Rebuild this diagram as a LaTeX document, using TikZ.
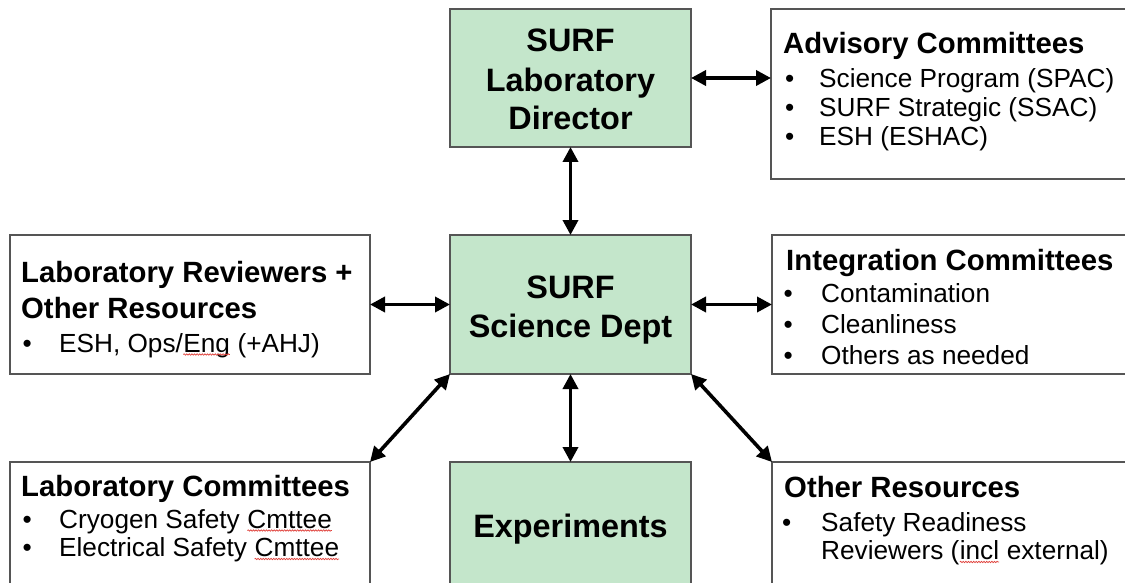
\documentclass[tikz,border=0pt]{standalone}
\usepackage{fontspec}
\setmainfont{Liberation Sans}
\usetikzlibrary{arrows.meta,decorations.pathmorphing}
\definecolor{boxgreen}{HTML}{C4E6CB}
\definecolor{edgegray}{HTML}{555555}
\definecolor{spellred}{HTML}{E0403A}
\newcommand\spellmark[1]{\tikz[baseline=(sw.base)]{\node[inner sep=0pt,outer sep=0pt](sw){#1};\draw[spellred,line width=0.7pt,decorate,decoration={snake,amplitude=0.7pt,segment length=2.6pt}]([yshift=-2.5pt]sw.base west)--([yshift=-2.5pt]sw.base east);}}
\tikzset{
  greenbox/.style={draw=edgegray,fill=boxgreen,line width=1.2pt,inner sep=0pt,outer sep=0pt},
  whitebox/.style={draw=edgegray,fill=white,line width=1.2pt,inner sep=0pt,outer sep=0pt},
  gtext/.style={anchor=base,inner sep=0pt,font=\fontsize{32.4}{38.8}\selectfont\bfseries},
  head/.style={anchor=base west,inner sep=0pt,font=\fontsize{29.3}{34}\selectfont\bfseries},
  item/.style={anchor=base west,inner sep=0pt,font=\fontsize{26.2}{30}\selectfont},
  link/.style={line width=3.6pt,{Triangle[length=15pt,width=15pt]}-{Triangle[length=15pt,width=15pt]}}
}
\begin{document}
\begin{tikzpicture}[x=1pt,y=-1pt]
\useasboundingbox (0,0) rectangle (1125,583);
\clip (0,0) rectangle (1125,583);
% boxes
\node[greenbox,minimum width=241pt,minimum height=138pt] (dir) at (570.5,78) {};
\node[whitebox,minimum width=369pt,minimum height=170pt] (adv) at (955.5,94) {};
\node[whitebox,minimum width=360pt,minimum height=139pt] (labr) at (190,304.5) {};
\node[greenbox,minimum width=241pt,minimum height=139pt] (sci) at (570.5,304.5) {};
\node[whitebox,minimum width=368pt,minimum height=139pt] (integ) at (956,304.5) {};
\node[whitebox,minimum width=360pt,minimum height=158pt] (labc) at (190,541) {};
\node[greenbox,minimum width=241pt,minimum height=158pt] (exp) at (570.5,541) {};
\node[whitebox,minimum width=368pt,minimum height=158pt] (oth) at (956,541) {};
% green texts
\node[gtext] (dirA) at (570.5,51.8) {SURF};
\node[gtext] (dirB) at (570.5,91.8) {Laboratory};
\node[gtext] (dirC) at (570.5,129.6) {Director};
\node[gtext] (sciA) at (570.5,298.7) {SURF};
\node[gtext] (sciB) at (570.5,337) {Science Dept};
\node[gtext] (expA) at (570.5,537.7) {Experiments};
% advisory
\node[head] (advH) at (783,53.3) {Advisory Committees};
\node[item] (advb1) at (785,87.8) {•};
\node[item] (advb2) at (785,116.8) {•};
\node[item] (advb3) at (785,145.3) {•};
\node[item] (advt1) at (819,87.8) {Science Program (SPAC)};
\node[item] (advt2) at (819,116.8) {SURF Strategic (SSAC)};
\node[item] (advt3) at (819,145.3) {ESH (ESHAC)};
% lab reviewers
\node[head] (labrH1) at (21,282.7) {Laboratory Reviewers +};
\node[head] (labrH2) at (21,318) {Other Resources};
\node[item] (labrb1) at (22.5,352) {•};
\node[item] (labrt1) at (59,352) {ESH, Ops/\spellmark{Eng} (+AHJ)};
% integration
\node[head] (intH) at (786,270) {Integration Committees};
\node[item] (intb1) at (783.5,302.3) {•};
\node[item] (intb2) at (783.5,333.3) {•};
\node[item] (intb3) at (783.5,364) {•};
\node[item] (intt1) at (821,302.3) {Contamination};
\node[item] (intt2) at (821,333.3) {Cleanliness};
\node[item] (intt3) at (821,364) {Others as needed};
% lab committees
\node[head] (labcH) at (21,496.5) {Laboratory Committees};
\node[item] (labcb1) at (22.5,528) {•};
\node[item] (labcb2) at (22.5,556.5) {•};
\node[item] (labct1) at (59,528) {Cryogen Safety \spellmark{Cmttee}};
\node[item] (labct2) at (59,556.5) {Electrical Safety \spellmark{Cmttee}};
% other resources
\node[head] (othH) at (784,497) {Other Resources};
\node[item] (othb1) at (782,531.5) {•};
\node[item] (otht1) at (821,531.5) {Safety Readiness};
\node[item] (otht2) at (821,559.5) {Reviewers (\spellmark{incl} external)};
% connectors
\draw[link] (dir.east) -- (dir.east -| adv.west);
\draw[link] (dir.south) -- (sci.north);
\draw[link] (labr.east) -- (sci.west);
\draw[link] (sci.east) -- (integ.west);
\draw[link] (sci.south) -- (exp.north);
\draw[link] (sci.south west) -- (labc.north east);
\draw[link] (sci.south east) -- (oth.north west);
\end{tikzpicture}
\end{document}
